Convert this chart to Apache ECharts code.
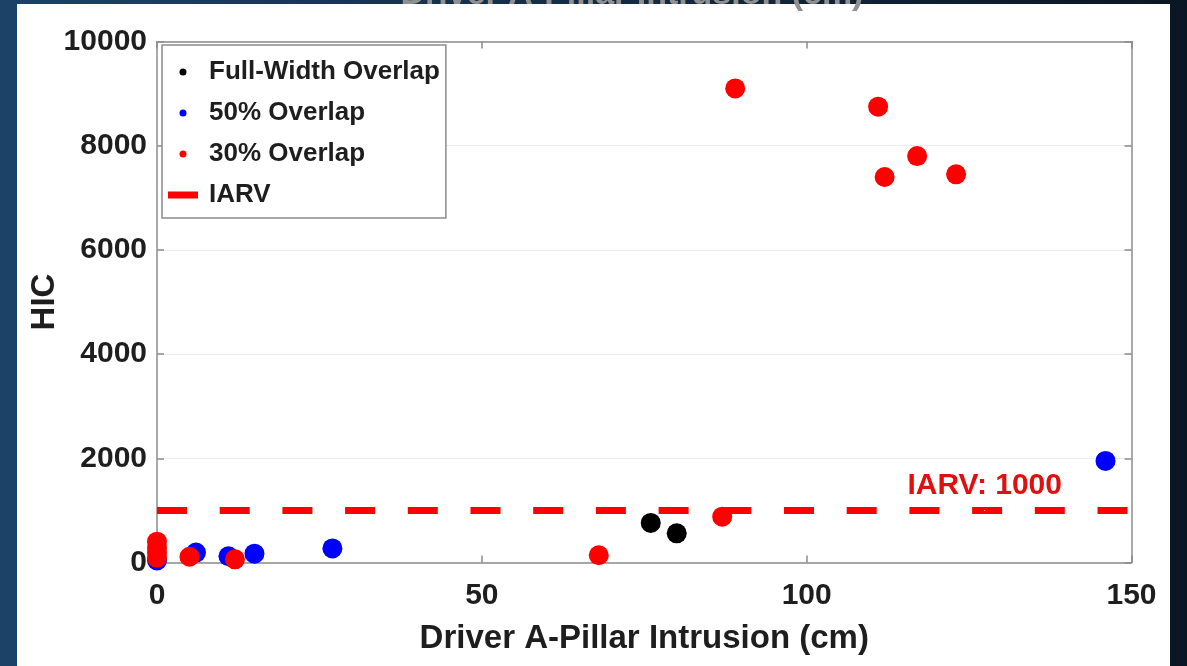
<!DOCTYPE html>
<html>
<head>
<meta charset="utf-8">
<script src="https://cdn.jsdelivr.net/npm/echarts@6/dist/echarts.min.js"></script>
<style>
html,body{margin:0;padding:0;background:#14324f;}
#chart{width:1187px;height:666px;}
</style>
</head>
<body>
<div id="chart"></div>
<script>
// ---- data ----
const titleText = 'Driver A-Pillar Intrusion (cm)';
const xAxisTitle = 'Driver A-Pillar Intrusion (cm)';
const yAxisTitle = 'HIC';
const xTicks = [0, 50, 100, 150];
const yTicks = [0, 2000, 4000, 6000, 8000, 10000];

const fullWidthName = 'Full-Width Overlap';
const fullWidthX = [76, 80];
const fullWidthY = [760, 560];

const fiftyName = '50% Overlap';
const fiftyX = [0, 6, 11, 15, 27, 146];
const fiftyY = [40, 190, 120, 170, 270, 1950];

const thirtyName = '30% Overlap';
const thirtyX = [0, 0, 0, 0, 5, 12, 68, 87, 89, 111, 112, 117, 123];
const thirtyY = [400, 290, 190, 90, 110, 60, 140, 880, 9100, 8750, 7400, 7800, 7450];

const iarvName = 'IARV';
const iarvValue = 1000;
const iarvLabel = 'IARV: 1000';
const iarvLabelX = 127.4;

// ---- build ----
const FONT = '"Liberation Sans", Arial, Helvetica, sans-serif';
const pts = (xs, ys) => xs.map((x, i) => [x, ys[i]]);
const xMin = xTicks[0], xMax = xTicks[xTicks.length - 1];
const xInt = xTicks[1] - xTicks[0];
const yMin = yTicks[0], yMax = yTicks[yTicks.length - 1];
const yInt = yTicks[1] - yTicks[0];

const chart = echarts.init(document.getElementById('chart'), null, {renderer: 'canvas'});
const axisColor = '#8c8c8c';
const plain = v => String(v);
const tickLabel = {fontFamily: FONT, fontSize: 30, fontWeight: 'bold', color: '#1e1e1e', formatter: plain};

const option = {
  backgroundColor: {
    type: 'linear', x: 0, y: 0, x2: 1, y2: 0,
    colorStops: [{offset: 0, color: '#1c4268'}, {offset: 1, color: '#0a1623'}]
  },
  animation: false,
  graphic: [
    {type: 'rect', z: -10, silent: true, shape: {x: 17, y: 4, width: 1153, height: 662}, style: {fill: '#ffffff'}},
    {type: 'text', z: 100, silent: true, x: 632, y: 12,
     style: {text: titleText, fill: '#909090', font: 'bold 34px ' + FONT, align: 'center', verticalAlign: 'bottom'}}
  ],
  grid: {left: 157, right: 55.5, top: 41.5, bottom: 103.5, containLabel: false},
  legend: {
    left: 162, top: 45,
    orient: 'vertical',
    backgroundColor: '#ffffff',
    borderColor: '#8c8c8c', borderWidth: 1.5, borderRadius: 0,
    padding: [14, 6, 10, 6],
    itemWidth: 30, itemHeight: 7, itemGap: 15,
    textStyle: {fontFamily: FONT, fontSize: 26, fontWeight: 'bold', color: '#1e1e1e', lineHeight: 26, padding: [0, 0, 0, 6]},
    data: [
      {name: fullWidthName, icon: 'circle'},
      {name: fiftyName, icon: 'circle'},
      {name: thirtyName, icon: 'circle'},
      {name: iarvName, icon: 'rect'}
    ],
    selectedMode: false
  },
  xAxis: [
    {
      type: 'value', position: 'bottom', min: xMin, max: xMax, interval: xInt,
      name: xAxisTitle, nameLocation: 'middle', nameGap: 60, nameMoveOverlap: false,
      nameTextStyle: {fontFamily: FONT, fontSize: 33, fontWeight: 'bold', color: '#1e1e1e'},
      axisLine: {show: true, onZero: false, lineStyle: {color: axisColor, width: 1.5}},
      axisTick: {show: true, inside: true, length: 7, lineStyle: {color: axisColor, width: 1.5}},
      axisLabel: Object.assign({margin: 18}, tickLabel),
      splitLine: {show: false}
    },
    {
      type: 'value', position: 'top', min: xMin, max: xMax, interval: xInt,
      axisLine: {show: true, onZero: false, lineStyle: {color: axisColor, width: 1.5}},
      axisTick: {show: true, inside: true, length: 7, lineStyle: {color: axisColor, width: 1.5}},
      axisLabel: {show: false},
      splitLine: {show: false}
    }
  ],
  yAxis: [
    {
      type: 'value', position: 'left', min: yMin, max: yMax, interval: yInt,
      name: yAxisTitle, nameLocation: 'middle', nameGap: 96, nameRotate: 90, nameMoveOverlap: false,
      nameTextStyle: {fontFamily: FONT, fontSize: 33, fontWeight: 'bold', color: '#1e1e1e'},
      axisLine: {show: true, onZero: false, lineStyle: {color: axisColor, width: 1.5}},
      axisTick: {show: true, inside: true, length: 7, lineStyle: {color: axisColor, width: 1.5}},
      axisLabel: Object.assign({margin: 10}, tickLabel),
      splitLine: {show: true, lineStyle: {color: '#ececec', width: 1}}
    },
    {
      type: 'value', position: 'right', min: yMin, max: yMax, interval: yInt,
      axisLine: {show: true, onZero: false, lineStyle: {color: axisColor, width: 1.5}},
      axisTick: {show: true, inside: true, length: 7, lineStyle: {color: axisColor, width: 1.5}},
      axisLabel: {show: false},
      splitLine: {show: false}
    }
  ],
  series: [
    {
      name: fullWidthName, type: 'scatter', symbol: 'circle', symbolSize: 20,
      itemStyle: {color: '#000000', opacity: 1},
      data: pts(fullWidthX, fullWidthY)
    },
    {
      name: fiftyName, type: 'scatter', symbol: 'circle', symbolSize: 20,
      itemStyle: {color: '#0000ff', opacity: 1},
      data: pts(fiftyX, fiftyY)
    },
    {
      name: thirtyName, type: 'scatter', symbol: 'circle', symbolSize: 20,
      itemStyle: {color: '#ff0000', opacity: 1},
      data: pts(thirtyX, thirtyY)
    },
    {
      name: iarvName, type: 'line', symbol: 'none', showSymbol: false,
      itemStyle: {color: '#ff0000'},
      lineStyle: {color: '#ff0000', width: 7, type: [30, 32.7]},
      emphasis: {disabled: true},
      data: [[xMin, iarvValue], [xMax, iarvValue]]
    },
    {
      name: 'iarv-label', type: 'scatter', symbol: 'circle', symbolSize: 1,
      itemStyle: {color: '#ffffff', opacity: 1},
      label: {
        show: true, position: 'top', distance: 9,
        formatter: () => iarvLabel,
        fontFamily: FONT, fontSize: 30, fontWeight: 'bold', color: '#e01010', opacity: 1, lineHeight: 30
      },
      emphasis: {disabled: true},
      silent: true,
      z: 5,
      data: [[iarvLabelX, iarvValue]]
    }
  ]
};
chart.setOption(option);
</script>
</body>
</html>
